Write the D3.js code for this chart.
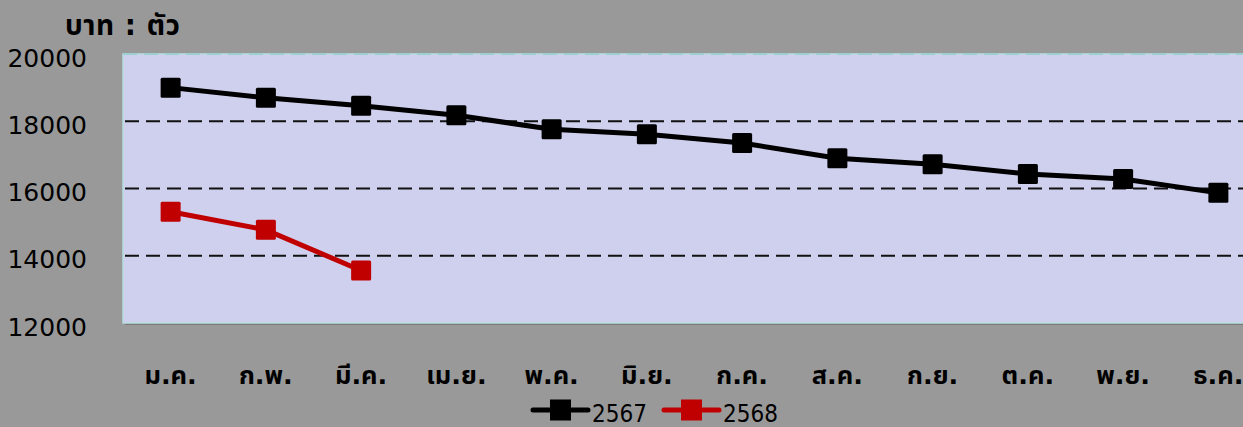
<!DOCTYPE html>
<html>
<head>
<meta charset="utf-8">
<script src="https://cdn.jsdelivr.net/npm/d3@7"></script>
<style>
  body { margin: 0; background: #999999; }
  svg { display: block; font-family: Tahoma, "DejaVu Sans", "Noto Sans Thai", sans-serif; }
</style>
</head>
<body>
<svg width="1243" height="427"></svg>
<script>
const months = ["ม.ค.", "ก.พ.", "มี.ค.", "เม.ย.", "พ.ค.", "มิ.ย.", "ก.ค.", "ส.ค.", "ก.ย.", "ต.ค.", "พ.ย.", "ธ.ค."];
const values2567 = [19000, 18700, 18460, 18180, 17760, 17610, 17350, 16900, 16720, 16430, 16280, 15870];
const values2568 = [15310, 14770, 13560];
const yTicks = [12000, 14000, 16000, 18000, 20000];
const seriesNames = ["2567", "2568"];
const seriesColors = ["#000000", "#c00000"];

const svg = d3.select("svg");
const plotLeft = 123, plotTop = 54, plotBottom = 323, plotRight = 1266;

const x = d3.scalePoint().domain(months).range([plotLeft, plotRight]).padding(0.5);
const y = d3.scaleLinear().domain([12000, 20000]).range([plotBottom, plotTop]);

// shadow + plot area
svg.append("rect")
    .attr("x", plotLeft + 2).attr("y", plotTop + 2)
    .attr("width", plotRight - plotLeft).attr("height", plotBottom - plotTop)
    .style("fill", "#7a7a7a");
svg.append("rect")
    .attr("x", plotLeft).attr("y", plotTop)
    .attr("width", plotRight - plotLeft).attr("height", plotBottom - plotTop)
    .style("fill", "#cfcfee")
    .style("stroke", "#b8dede")
    .style("stroke-width", 1.5);

// gridlines
svg.selectAll(".grid")
    .data(yTicks.filter(d => d > 12000 && d < 20000))
    .enter().append("line")
    .attr("x1", plotLeft + 2).attr("x2", plotRight)
    .attr("y1", d => y(d)).attr("y2", d => y(d))
    .style("stroke", "#111")
    .style("stroke-width", 2)
    .style("stroke-dasharray", "14,7");

// top dashed line
svg.append("line")
    .attr("x1", plotLeft).attr("x2", plotRight)
    .attr("y1", y(20000)).attr("y2", y(20000))
    .style("stroke", "#9ccfcf")
    .style("stroke-width", 2)
    .style("stroke-dasharray", "14,7");

// y labels
svg.selectAll(".ylab")
    .data(yTicks)
    .enter().append("text")
    .attr("x", 87)
    .attr("y", d => y(d) + 12.5)
    .style("text-anchor", "end")
    .style("font-family", "'DejaVu Sans', sans-serif")
    .style("font-size", "25px")
    .style("fill", "#000")
    .text(d => d);

// unit title
svg.append("text")
    .attr("x", 65).attr("y", 35)
    .style("font-size", "28px")
    .style("font-weight", "bold")
    .style("letter-spacing", "0.5px")
    .text("บาท : ตัว");

// x labels
svg.selectAll(".xlab")
    .data(months)
    .enter().append("text")
    .attr("x", d => x(d))
    .attr("y", 384)
    .style("text-anchor", "middle")
    .style("font-size", "25.5px")
    .style("font-weight", "bold")
    .text(d => d);

// series
const series = [values2567, values2568];
const line = d3.line().x((d, i) => x(months[i])).y(d => y(d));

series.forEach((vals, si) => {
    svg.append("path")
        .datum(vals)
        .attr("d", line)
        .style("fill", "none")
        .style("stroke", seriesColors[si])
        .style("stroke-width", 5);
    svg.selectAll(".m" + si)
        .data(vals)
        .enter().append("rect")
        .attr("x", (d, i) => x(months[i]) - 10)
        .attr("y", d => y(d) - 10)
        .attr("width", 20).attr("height", 20)
        .attr("rx", 1.5)
        .style("fill", seriesColors[si]);
});

// legend
const legendX = [533, 664];
seriesNames.forEach((name, i) => {
    const g = svg.append("g").attr("transform", `translate(${legendX[i]},410)`);
    g.append("line")
        .attr("x1", 0).attr("x2", 55)
        .style("stroke", seriesColors[i])
        .style("stroke-width", 5)
        .style("stroke-linecap", "round");
    g.append("rect")
        .attr("x", 17).attr("y", -10.5)
        .attr("width", 21).attr("height", 21)
        .style("fill", seriesColors[i]);
    g.append("text")
        .attr("x", 59).attr("y", 12)
        .style("font-family", "'DejaVu Sans Condensed', 'Liberation Sans', sans-serif")
        .style("font-size", "24px")
        .text(name);
});
</script>
</body>
</html>
